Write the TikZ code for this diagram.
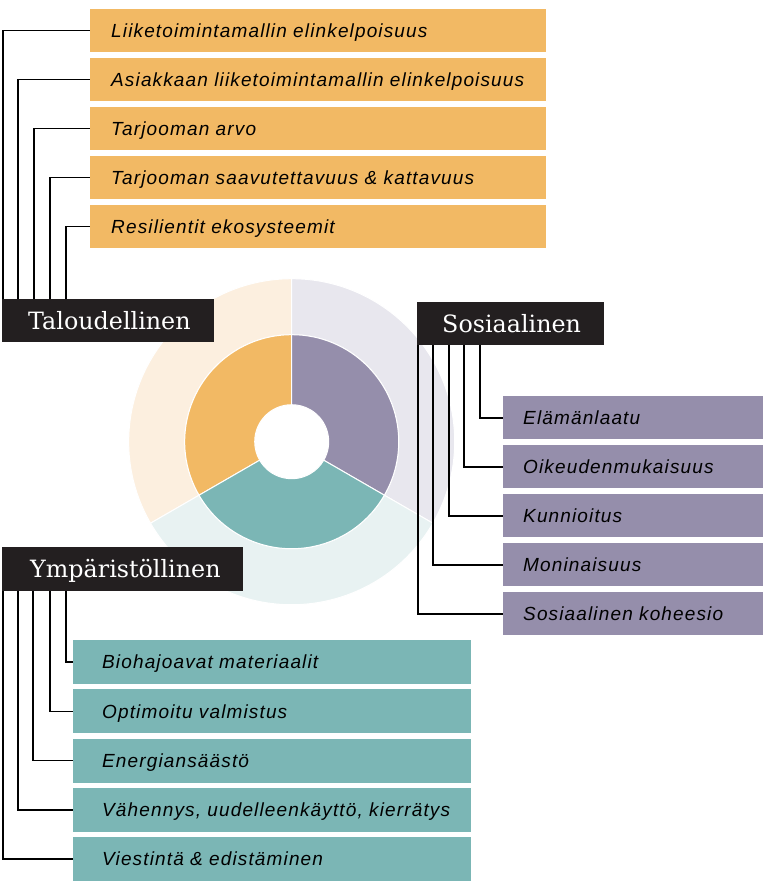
\documentclass[tikz,border=0pt]{standalone}
\usepackage{fontspec}
\newfontfamily\itemfont[LetterSpace=6]{Liberation Sans}
\newfontfamily\labelfont{DejaVu Serif}

\definecolor{econ}{HTML}{F2B964}
\definecolor{econlight}{HTML}{FCEFDF}
\definecolor{soc}{HTML}{958EAB}
\definecolor{soclight}{HTML}{E8E7EE}
\definecolor{env}{HTML}{7BB6B5}
\definecolor{envlight}{HTML}{E8F2F2}
\definecolor{labeldark}{HTML}{231F20}

% ring sector: colour, start angle, end angle, inner radius, outer radius
\newcommand\ringsector[5]{%
  \fill[#1, draw=white, line width=1pt]
    (#2:#4pt) arc[start angle=#2, end angle=#3, radius=#4pt]
    -- (#3:#5pt) arc[start angle=#3, end angle=#2, radius=#5pt] -- cycle;}

\begin{document}
\begin{tikzpicture}[x=1pt, y=-1pt,
  itembox/.style={rectangle, anchor=north west, inner ysep=0pt, align=left,
    font=\itemfont\itshape\fontsize{19}{21}\selectfont,
    text height=13.5pt, text depth=0pt},
  topbox/.style={itembox, fill=econ, minimum height=43pt, inner xsep=21pt, text width=414pt},
  socbox/.style={itembox, fill=soc, minimum height=43pt, inner xsep=20pt, text width=220pt},
  envbox/.style={itembox, fill=env, minimum height=44pt, inner xsep=29pt, text width=340pt},
  catlabel/.style={rectangle, anchor=north west, fill=labeldark, text=white,
    inner ysep=0pt, align=left, font=\labelfont\fontsize{23.8}{26}\selectfont,
    text height=17pt, text depth=0pt},
  conn/.style={line width=1.6pt, black}]

\useasboundingbox (0,0) rectangle (763,885);

% three-part donut: light outer ring, strong inner ring
\begin{scope}[shift={(291.7,441.7)}]
  \ringsector{econlight}{90}{210}{107}{163}
  \ringsector{soclight}{-30}{90}{107}{163}
  \ringsector{envlight}{210}{330}{107}{163}
  \ringsector{econ}{90}{210}{37}{107}
  \ringsector{soc}{-30}{90}{37}{107}
  \ringsector{env}{210}{330}{37}{107}
\end{scope}

% economic items
\node[topbox] (t1) at (90,9)   {Liiketoimintamallin elinkelpoisuus};
\node[topbox] (t2) at (90,58)  {Asiakkaan liiketoimintamallin elinkelpoisuus};
\node[topbox] (t3) at (90,107) {Tarjooman arvo};
\node[topbox] (t4) at (90,156) {Tarjooman saavutettavuus \& kattavuus};
\node[topbox] (t5) at (90,205) {Resilientit ekosysteemit};

% social items
\node[socbox] (s1) at (503,396) {Elämänlaatu};
\node[socbox] (s2) at (503,445) {Oikeudenmukaisuus};
\node[socbox] (s3) at (503,494) {Kunnioitus};
\node[socbox] (s4) at (503,543) {Moninaisuus};
\node[socbox] (s5) at (503,592) {Sosiaalinen koheesio};

% environmental items
\node[envbox] (e1) at (73,640)   {Biohajoavat materiaalit};
\node[envbox] (e2) at (73,689.2) {Optimoitu valmistus};
\node[envbox] (e3) at (73,738.4) {Energiansäästö};
\node[envbox] (e4) at (73,787.6) {\mbox{Vähennys, uudelleenkäyttö, kierrätys}};
\node[envbox] (e5) at (73,836.8) {Viestintä \& edistäminen};

% category labels
\node[catlabel, minimum height=43pt, inner xsep=26pt, text width=160pt] (tal) at (2,299) {Taloudellinen};
\node[catlabel, minimum height=43pt, inner xsep=25pt, text width=137pt] (soz) at (417,302) {Sosiaalinen};
\node[catlabel, minimum height=44pt, inner xsep=28pt, text width=185pt] (ymp) at (2,547) {Ympäristöllinen};

% connectors
\draw[conn] ([xshift=1pt]tal.north west)  |- (t1.west);
\draw[conn] ([xshift=16pt]tal.north west) |- (t2.west);
\draw[conn] ([xshift=32pt]tal.north west) |- (t3.west);
\draw[conn] ([xshift=48pt]tal.north west) |- (t4.west);
\draw[conn] ([xshift=64pt]tal.north west) |- (t5.west);

\draw[conn] ([xshift=63pt]soz.south west) |- (s1.west);
\draw[conn] ([xshift=47pt]soz.south west) |- (s2.west);
\draw[conn] ([xshift=32pt]soz.south west) |- (s3.west);
\draw[conn] ([xshift=16pt]soz.south west) |- (s4.west);
\draw[conn] ([xshift=1pt]soz.south west)  |- (s5.west);

\draw[conn] ([xshift=64pt]ymp.south west) |- (e1.west);
\draw[conn] ([xshift=48pt]ymp.south west) |- (e2.west);
\draw[conn] ([xshift=31pt]ymp.south west) |- (e3.west);
\draw[conn] ([xshift=16pt]ymp.south west) |- (e4.west);
\draw[conn] ([xshift=1pt]ymp.south west)  |- (e5.west);

\end{tikzpicture}
\end{document}
